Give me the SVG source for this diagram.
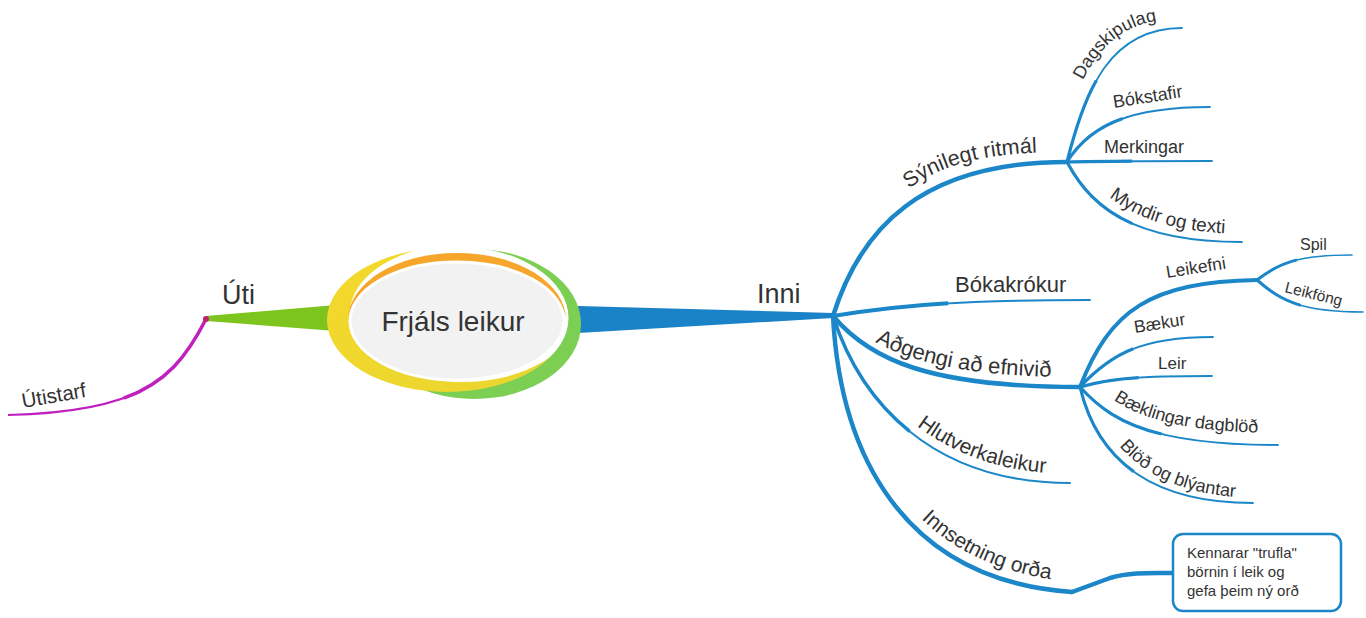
<svg xmlns="http://www.w3.org/2000/svg" width="1366" height="618" viewBox="0 0 1366 618">
<style>
.t{font-family:"Liberation Sans",Arial,sans-serif;fill:#333}
.br{fill:none;stroke:#1b87c9;stroke-linecap:round}
.ov{fill:none;stroke:#1b87c9;stroke-linecap:butt;stroke-dasharray:45 100}
</style>
<defs>
<linearGradient id="gY" x1="0" y1="0" x2="1" y2="1"><stop offset="0" stop-color="#f6d92c"/><stop offset="1" stop-color="#e8d52e"/></linearGradient>
<mask id="mG"><ellipse cx="474" cy="324" rx="107" ry="75" fill="#fff"/><ellipse cx="455" cy="318" rx="112" ry="70" fill="#000" stroke="#000" stroke-width="3"/></mask>
<mask id="mY"><ellipse cx="447" cy="320" rx="120" ry="72" fill="#fff"/><ellipse cx="463" cy="313" rx="113" ry="69" fill="#000"/></mask>
<mask id="mO"><ellipse cx="457" cy="320" rx="109" ry="67" fill="#fff"/><ellipse cx="457" cy="329" rx="111" ry="67" fill="#000"/></mask>
<path id="p_syn" d="M895,200 C930,168 975,153 1055,152"/>
<path id="p_dag" d="M1057,156 C1075,84 1100,20 1172,20"/>
<path id="p_myn" d="M1073,152 C1096,195 1136,234 1250,234"/>
<path id="p_adg" d="M829,304 C866,348 926,377 1076,377"/>
<path id="p_bdag" d="M1085,375 C1115,408 1155,433 1283,433"/>
<path id="p_blod" d="M1088,382 C1103,445 1148,498 1261,498"/>
<path id="p_hlut" d="M836,307 C863,391 933,474 1073,474"/>
<path id="p_inn" d="M838,306 C845,440 905,570 1077,582"/>
</defs>
<rect width="1366" height="618" fill="#fff"/>

<g id="connectors">
  <polygon points="578,306 833,313 833,318 578,333" fill="#1a82c6"/>
  <polygon points="206,316 206,321 336,331 336,305" fill="#7ec41e"/>
  <path d="M206,319 C175,380 140,412 8,415" fill="none" stroke="#c020c0" stroke-width="2"/>
  <path d="M206,319 C175,380 140,412 8,415" pathLength="100" fill="none" stroke="#c020c0" stroke-width="3.5" stroke-dasharray="50 100"/>
  <circle cx="206" cy="319" r="3" fill="#c0206a"/>

  <path class="br" d="M833,316 C860,230 920,162 1067,162" stroke-width="4.5"/>
  <path class="br" d="M1067,162 C1085,90 1110,28 1182,28" stroke-width="1.8"/>
  <path class="ov" d="M1067,162 C1085,90 1110,28 1182,28" pathLength="100" stroke-width="3.2"/>
  <path class="br" d="M1067,162 C1090,125 1130,107 1210,107" stroke-width="1.8"/>
  <path class="ov" d="M1067,162 C1090,125 1130,107 1210,107" pathLength="100" stroke-width="3.2"/>
  <path class="br" d="M1067,162 C1100,161 1150,161 1212,161" stroke-width="1.8"/>
  <path class="ov" d="M1067,162 C1100,161 1150,161 1212,161" pathLength="100" stroke-width="3.2"/>
  <path class="br" d="M1067,162 C1090,205 1130,242 1242,242" stroke-width="1.8"/>
  <path class="ov" d="M1067,162 C1090,205 1130,242 1242,242" pathLength="100" stroke-width="3.2"/>

  <path class="br" d="M833,316 C900,305 960,300 1090,300" stroke-width="2"/>
  <path class="ov" d="M833,316 C900,305 960,300 1090,300" pathLength="100" stroke-width="4"/>

  <path class="br" d="M833,316 C870,360 930,387 1080,387" stroke-width="4.5"/>
  <path class="br" d="M1080,387 C1110,310 1150,282 1257,280" stroke-width="4"/>
  <path class="br" d="M1257,280 C1280,262 1300,255 1352,255" stroke-width="1.6"/>
  <path class="ov" d="M1257,280 C1280,262 1300,255 1352,255" pathLength="100" stroke-width="3"/>
  <path class="br" d="M1257,280 C1280,300 1300,312 1363,312" stroke-width="1.6"/>
  <path class="ov" d="M1257,280 C1280,300 1300,312 1363,312" pathLength="100" stroke-width="3"/>
  <path class="br" d="M1080,387 C1110,355 1140,337 1213,337" stroke-width="1.8"/>
  <path class="ov" d="M1080,387 C1110,355 1140,337 1213,337" pathLength="100" stroke-width="3.2"/>
  <path class="br" d="M1080,387 C1110,378 1140,376 1212,376" stroke-width="1.8"/>
  <path class="ov" d="M1080,387 C1110,378 1140,376 1212,376" pathLength="100" stroke-width="3.2"/>
  <path class="br" d="M1080,387 C1110,420 1150,445 1278,445" stroke-width="1.8"/>
  <path class="ov" d="M1080,387 C1110,420 1150,445 1278,445" pathLength="100" stroke-width="3.2"/>
  <path class="br" d="M1080,387 C1095,450 1140,503 1253,503" stroke-width="1.8"/>
  <path class="ov" d="M1080,387 C1095,450 1140,503 1253,503" pathLength="100" stroke-width="3.2"/>

  <path class="br" d="M833,316 C860,400 930,483 1070,483" stroke-width="2"/>
  <path class="ov" d="M833,316 C860,400 930,483 1070,483" pathLength="100" stroke-width="3.5"/>

  <path class="br" d="M833,316 C840,450 900,580 1072,592" stroke-width="4.5"/>
  <path class="br" d="M1072,592 L1110,578 C1130,572 1150,573 1173,573" stroke-width="4.5" stroke-linejoin="round"/>
</g>

<g id="node-center">
  <rect x="300" y="230" width="300" height="180" fill="#7ccf52" mask="url(#mG)"/>
  <rect x="300" y="230" width="300" height="180" fill="url(#gY)" mask="url(#mY)"/>
  <rect x="300" y="230" width="300" height="180" fill="#f6a62a" mask="url(#mO)"/>
  <ellipse cx="457" cy="321" rx="107" ry="59" fill="#f2f2f2" stroke="#fff" stroke-width="3"/>
  <text class="t" x="453" y="331" font-size="28" text-anchor="middle">Frjáls leikur</text>
</g>

<g id="node-inni"><text class="t" x="757" y="303" font-size="27">Inni</text></g>
<g id="node-uti"><text class="t" x="222" y="304" font-size="27">Úti</text></g>
<g id="node-utistarf"><text class="t" x="23" y="408" font-size="20.5" transform="rotate(-10 23 408)">Útistarf</text></g>

<g id="node-synilegt"><text class="t" font-size="21.5"><textPath href="#p_syn" startOffset="18">Sýnilegt ritmál</textPath></text></g>
<g id="node-dagskipulag"><text class="t" font-size="18"><textPath href="#p_dag" startOffset="80">Dagskipulag</textPath></text></g>
<g id="node-bokstafir"><text class="t" x="1114" y="108" font-size="18" transform="rotate(-9 1114 108)">Bókstafir</text></g>
<g id="node-merkingar"><text class="t" x="1104" y="153" font-size="18">Merkingar</text></g>
<g id="node-myndir"><text class="t" font-size="19"><textPath href="#p_myn" startOffset="58">Myndir og texti</textPath></text></g>

<g id="node-bokakrokur"><text class="t" x="955" y="292" font-size="22">Bókakrókur</text></g>

<g id="node-adgengi"><text class="t" font-size="22"><textPath href="#p_adg" startOffset="60">Aðgengi að efnivið</textPath></text></g>
<g id="node-leikefni"><text class="t" x="1167" y="278" font-size="17.5" transform="rotate(-9 1167 278)">Leikefni</text></g>
<g id="node-spil"><text class="t" x="1300" y="250" font-size="16">Spil</text></g>
<g id="node-leikfong"><text class="t" x="1284" y="292" font-size="15.5" transform="rotate(14 1284 292)">Leikföng</text></g>
<g id="node-baekur"><text class="t" x="1135" y="333" font-size="17.5" transform="rotate(-9 1135 333)">Bækur</text></g>
<g id="node-leir"><text class="t" x="1158" y="369" font-size="17">Leir</text></g>
<g id="node-baeklingar"><text class="t" font-size="18"><textPath href="#p_bdag" startOffset="38">Bæklingar dagblöð</textPath></text></g>
<g id="node-blod"><text class="t" font-size="18"><textPath href="#p_blod" startOffset="72">Blöð og blýantar</textPath></text></g>

<g id="node-hlutverk"><text class="t" font-size="21"><textPath href="#p_hlut" startOffset="146">Hlutverkaleikur</textPath></text></g>
<g id="node-innsetning"><text class="t" font-size="21"><textPath href="#p_inn" startOffset="234">Innsetning orða</textPath></text></g>

<g id="node-callout">
  <rect x="1173" y="534" width="168" height="77" rx="10" fill="#fff" stroke="#1b87c9" stroke-width="2.5"/>
  <text class="t" font-size="15"><tspan x="1187" y="558">Kennarar "trufla"</tspan><tspan x="1187" y="577">börnin í leik og</tspan><tspan x="1187" y="596">gefa þeim ný orð</tspan></text>
</g>
</svg>
